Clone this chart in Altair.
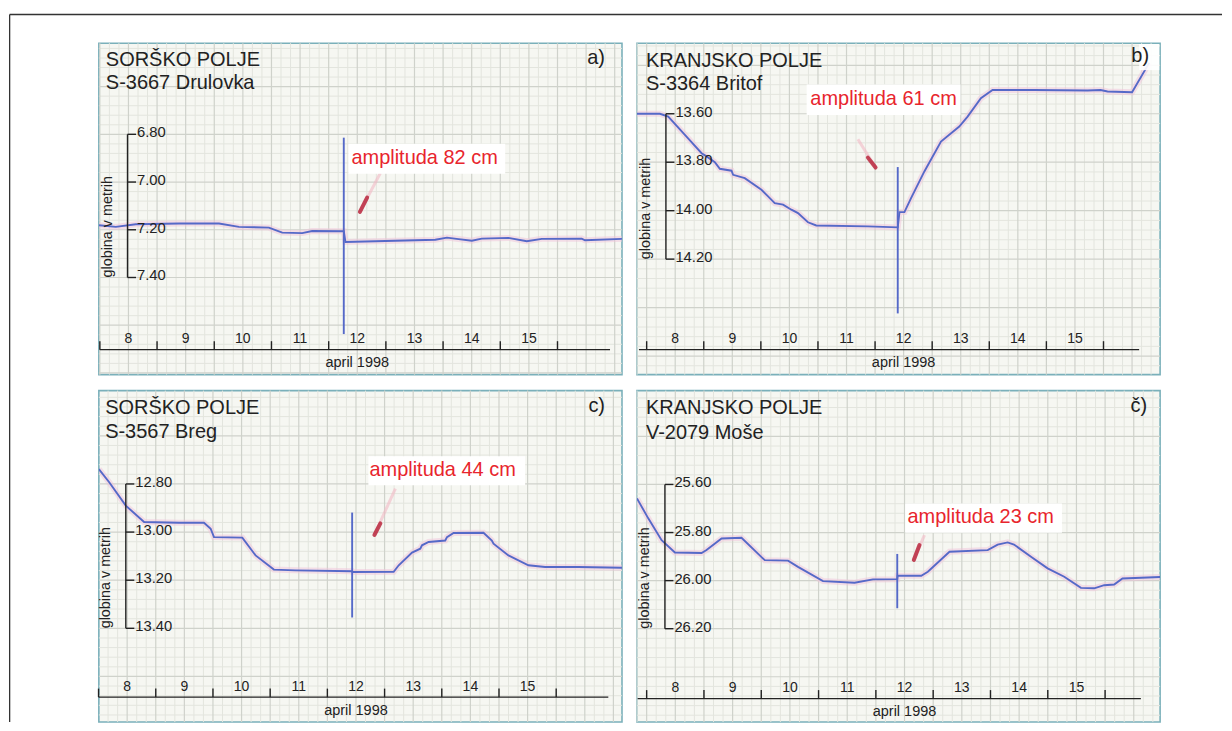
import altair as alt
import numpy as np
import pandas as pd

# ---------------- values ----------------
region_names = ["SORŠKO POLJE", "KRANJSKO POLJE", "SORŠKO POLJE", "KRANJSKO POLJE"]
station_names = ["S-3667 Drulovka", "S-3364 Britof", "S-3567 Breg", "V-2079 Moše"]
panel_letters = ["a)", "b)", "c)", "č)"]
amplitude_labels = ["amplituda 82 cm", "amplituda 61 cm", "amplituda 44 cm", "amplituda 23 cm"]
day_labels = ["8", "9", "10", "11", "12", "13", "14", "15"]
day_ticks = [8, 9, 10, 11, 12, 13, 14, 15, 16]
x_title = "april 1998"
y_title = "globina v metrih"

a_ticks = [6.80, 7.00, 7.20, 7.40]
b_ticks = [13.60, 13.80, 14.00, 14.20]
c_ticks = [12.80, 13.00, 13.20, 13.40]
d_ticks = [25.60, 25.80, 26.00, 26.20]

# a) S-3667 Drulovka (day of April, depth in m)
a_day = [7.985, 8.279, 8.628, 9.385, 10.083, 10.432, 10.955, 11.188, 11.537, 11.712, 12.264,
         12.293, 13.166, 13.864, 14.068, 14.271, 14.503, 14.677, 15.143, 15.463, 15.725,
         16.423, 16.481, 17.127]
a_depth = [7.181, 7.188, 7.177, 7.174, 7.174, 7.188, 7.191, 7.212, 7.214, 7.205, 7.206,
           7.251, 7.246, 7.242, 7.233, 7.239, 7.246, 7.237, 7.234, 7.248, 7.238,
           7.237, 7.244, 7.238]
a_spike = [12.264, 6.814, 7.637]

# b) S-3364 Britof
b_day = [7.830, 8.233, 8.378, 8.670, 8.962, 9.049, 9.194, 9.282, 9.486, 9.514,
         9.718, 10.010, 10.126, 10.243, 10.389, 10.535, 10.650, 10.825, 10.970, 11.873,
         12.397, 12.427, 12.514, 12.630, 12.863, 13.154, 13.474, 13.620, 13.853, 14.057,
         14.786, 15.718, 15.950, 16.070, 16.500, 16.800]
b_depth = [13.600, 13.600, 13.612, 13.687, 13.763, 13.776, 13.800, 13.827, 13.835, 13.852,
           13.866, 13.914, 13.941, 13.969, 13.975, 13.996, 14.010, 14.048, 14.061, 14.065,
           14.069, 14.006, 14.006, 13.948, 13.838, 13.715, 13.653, 13.612, 13.536, 13.502,
           13.502, 13.504, 13.502, 13.508, 13.511, 13.390]
b_spike = [12.397, 13.820, 14.424]

# c) S-3567 Breg
c_day = [8.005, 8.186, 8.476, 8.796, 9.407, 9.843, 9.960, 10.018, 10.513, 10.745,
         11.065, 11.443, 12.433, 12.440, 13.159, 13.247, 13.480, 13.624, 13.654, 13.770,
         14.060, 14.091, 14.206, 14.729, 14.875, 14.904, 15.165, 15.514, 15.805, 16.386,
         17.150]
c_depth = [12.738, 12.793, 12.890, 12.958, 12.961, 12.961, 12.986, 13.021, 13.023, 13.097,
           13.156, 13.159, 13.163, 13.166, 13.165, 13.138, 13.085, 13.069, 13.055, 13.041,
           13.035, 13.021, 13.004, 13.003, 13.035, 13.048, 13.097, 13.138, 13.145, 13.145,
           13.148]
c_spike = [12.433, 12.919, 13.355]

# č) V-2079 Moše
d_day = [7.831, 8.028, 8.261, 8.493, 8.958, 9.045, 9.307, 9.655, 10.061, 10.467,
         10.641, 11.077, 11.629, 11.948, 12.373, 12.380, 12.792, 12.907, 13.285, 13.951,
         14.125, 14.300, 14.410, 14.707, 14.997, 15.287, 15.578, 15.810, 15.984, 16.158,
         16.303, 16.960]
d_depth = [25.658, 25.741, 25.832, 25.883, 25.885, 25.873, 25.825, 25.822, 25.915, 25.917,
           25.943, 26.002, 26.009, 25.995, 25.994, 25.980, 25.980, 25.963, 25.880, 25.873,
           25.850, 25.841, 25.850, 25.901, 25.949, 25.984, 26.030, 26.032, 26.019, 26.016,
           25.991, 25.985]
d_spike = [12.373, 25.889, 26.115]

# ---------------- layout & style ----------------
FONT = "Liberation Sans"
BLUE = "#5569c8"
HALO = "#f0c3da"
RED = "#e8252d"
INK = "#222222"
TEAL = "#7ab0ba"
PAPER = "#f6f7f2"
GRID_MINOR = "#e3e5de"
GRID_MAJOR = "#cfd2cb"
W, H = 524, 332

layouts = [
    dict(xdom=[7.9825, 17.1274], ydom=[6.4180, 7.8071], yax=28.7, ytx=8.7,
         xax=[8.0, 16.918], base=307, tx=7, ty=[23, 46.3], lx=507, ly=21,
         box=[12.346, 15.086, 6.839, 6.965], txt=[12.398, 6.9255],
         arrow=[12.904, 6.962, 12.672, 7.065, 12.546, 7.125]),
    dict(xdom=[7.8304, 16.9912], ydom=[13.3087, 14.6767], yax=29, ytx=9,
         xax=[7.865, 16.624], base=307, tx=9, ty=[23.7, 47.3], lx=513, ly=19,
         box=[10.802, 13.495, 13.479, 13.605], txt=[10.867, 13.565],
         arrow=[11.699, 13.705, 11.874, 13.781, 12.009, 13.822]),
    dict(xdom=[8.0052, 17.1501], ydom=[12.4120, 13.7896], yax=27, ytx=7,
         xax=[8.0, 16.911], base=307, tx=6.3, ty=[23, 47.3], lx=507, ly=21,
         box=[12.717, 15.457, 12.685, 12.805], txt=[12.735, 12.766],
         arrow=[13.189, 12.819, 12.927, 12.964, 12.822, 13.012]),
    dict(xdom=[7.8310, 16.9599], ydom=[25.2096, 26.5884], yax=28, ytx=8,
         xax=[7.843, 16.624], base=308.5, tx=9, ty=[23.7, 48], lx=511, ly=21,
         box=[12.512, 15.247, 25.679, 25.801], txt=[12.552, 25.759],
         arrow=[12.848, 25.811, 12.761, 25.852, 12.662, 25.914]),
]

series = [(a_day, a_depth, a_ticks, a_spike), (b_day, b_depth, b_ticks, b_spike),
          (c_day, c_depth, c_ticks, c_spike), (d_day, d_depth, d_ticks, d_spike)]


def one(**kw):
    return pd.DataFrame({k: [v] for k, v in kw.items()})


def make_panel(i):
    day, depth, ticks, spike = series[i]
    L = layouts[i]
    xs = alt.Scale(domain=L["xdom"], nice=False, zero=False)
    ys = alt.Scale(domain=L["ydom"], reverse=True, nice=False, zero=False)

    def X(f):
        return alt.X(f, type="quantitative", scale=xs, axis=None)

    def Y(f):
        return alt.Y(f, type="quantitative", scale=ys, axis=None)

    layers = []

    if i == 0:  # outer frame of the figure (top and left edges)
        layers.append(alt.Chart(one(k=0)).mark_rule(color="#333333", strokeWidth=1.3).encode(
            x=alt.value(-89.35), x2=alt.value(1125), y=alt.value(-28.7)))
        layers.append(alt.Chart(one(k=0)).mark_rule(color="#333333", strokeWidth=1.3).encode(
            x=alt.value(-89.35), y=alt.value(-28.7), y2=alt.value(680)))

    # graph paper
    t0, t1 = L["xdom"]
    ks = np.arange(int(np.ceil(t0 * 6)), int(np.floor(t1 * 6)) + 1)
    gx = pd.DataFrame({"t": ks / 6.0, "major": ks % 3 == 0})
    d0, d1 = L["ydom"]
    kd = np.arange(int(np.ceil(d0 / 0.04)), int(np.floor(d1 / 0.04)) + 1)
    gy = pd.DataFrame({"d": kd * 0.04, "major": kd % 5 == 0})
    layers.append(alt.Chart(gx[~gx.major]).mark_rule(color=GRID_MINOR, strokeWidth=1).encode(x=X("t")))
    layers.append(alt.Chart(gy[~gy.major]).mark_rule(color=GRID_MINOR, strokeWidth=1).encode(y=Y("d")))
    layers.append(alt.Chart(gx[gx.major]).mark_rule(color=GRID_MAJOR, strokeWidth=1.2).encode(x=X("t")))
    layers.append(alt.Chart(gy[gy.major]).mark_rule(color=GRID_MAJOR, strokeWidth=1.2).encode(y=Y("d")))

    # water level trace
    df = pd.DataFrame({"t": day, "d": depth, "o": range(len(day))})
    layers.append(alt.Chart(df).mark_line(color=HALO, strokeWidth=6, opacity=0.5, clip=True).encode(
        x=X("t"), y=Y("d"), order="o:Q"))
    layers.append(alt.Chart(df).mark_line(color=BLUE, strokeWidth=1.9, clip=True).encode(
        x=X("t"), y=Y("d"), order="o:Q"))
    layers.append(alt.Chart(one(t=spike[0], d1=spike[1], d2=spike[2])).mark_rule(
        color=BLUE, strokeWidth=1.9).encode(x=X("t"), y=Y("d1"), y2=alt.Y2("d2")))

    # depth axis
    yax = L["yax"]
    layers.append(alt.Chart(one(d1=ticks[0], d2=ticks[-1])).mark_rule(color=INK, strokeWidth=1.4).encode(
        x=alt.value(yax), y=Y("d1"), y2=alt.Y2("d2")))
    tdf = pd.DataFrame({"d": ticks, "lab": [f"{v:.2f}" for v in ticks]})
    layers.append(alt.Chart(tdf).mark_rule(color=INK, strokeWidth=1.4).encode(
        x=alt.value(yax), x2=alt.value(yax + 8.5), y=Y("d")))
    layers.append(alt.Chart(tdf).mark_text(align="left", baseline="middle", dy=-1, font=FONT,
                                           fontSize=14.8, color=INK).encode(
        x=alt.value(yax + 9.5), y=Y("d"), text="lab:N"))
    layers.append(alt.Chart(one(d=ticks[-1], txt=y_title)).mark_text(
        angle=270, align="left", baseline="middle", font=FONT, fontSize=14.4, color=INK).encode(
        x=alt.value(L["ytx"]), y=Y("d"), text="txt:N"))

    # time axis
    base = L["base"]
    layers.append(alt.Chart(one(t1=L["xax"][0], t2=L["xax"][1])).mark_rule(color=INK, strokeWidth=1.4).encode(
        x=X("t1"), x2=alt.X2("t2"), y=alt.value(base)))
    layers.append(alt.Chart(pd.DataFrame({"t": day_ticks})).mark_rule(color=INK, strokeWidth=1.4).encode(
        x=X("t"), y=alt.value(base), y2=alt.value(base - 8.5)))
    ldf = pd.DataFrame({"t": [int(s) + 0.5 for s in day_labels], "lab": day_labels})
    layers.append(alt.Chart(ldf).mark_text(align="center", baseline="alphabetic", font=FONT,
                                           fontSize=14, color=INK).encode(
        x=X("t"), y=alt.value(base - 6.3), text="lab:N"))
    layers.append(alt.Chart(one(t=12.5, txt=x_title)).mark_text(
        align="center", baseline="alphabetic", font=FONT, fontSize=14.5, color=INK).encode(
        x=X("t"), y=alt.value(base + 17.7), text="txt:N"))

    # amplitude annotation
    ar = L["arrow"]
    layers.append(alt.Chart(one(t1=ar[0], d1=ar[1], t2=ar[4], d2=ar[5])).mark_rule(
        color="#f1b9c4", strokeWidth=3, opacity=0.6).encode(
        x=X("t1"), y=Y("d1"), x2=alt.X2("t2"), y2=alt.Y2("d2")))
    layers.append(alt.Chart(one(t1=ar[2], d1=ar[3], t2=ar[4], d2=ar[5])).mark_rule(
        color="#b8283e", strokeWidth=4, strokeCap="round", opacity=0.85).encode(
        x=X("t1"), y=Y("d1"), x2=alt.X2("t2"), y2=alt.Y2("d2")))
    bx = L["box"]
    layers.append(alt.Chart(one(x1=bx[0], x2=bx[1], y1=bx[2], y2=bx[3])).mark_rect(color="white").encode(
        x=X("x1"), x2=alt.X2("x2"), y=Y("y1"), y2=alt.Y2("y2")))
    layers.append(alt.Chart(one(t=L["txt"][0], d=L["txt"][1], txt=amplitude_labels[i])).mark_text(
        align="left", baseline="alphabetic", font=FONT, fontSize=20, color=RED).encode(
        x=X("t"), y=Y("d"), text="txt:N"))

    # panel titles
    if i == 1:
        layers.append(alt.Chart(one(k=0)).mark_rect(color="white", opacity=0.9).encode(
            x=alt.value(503), x2=alt.value(523.2), y=alt.value(0.8), y2=alt.value(27)))
    layers.append(alt.Chart(one(txt=region_names[i])).mark_text(
        align="left", baseline="alphabetic", font=FONT, fontSize=20, color=INK).encode(
        x=alt.value(L["tx"]), y=alt.value(L["ty"][0]), text="txt:N"))
    layers.append(alt.Chart(one(txt=station_names[i])).mark_text(
        align="left", baseline="alphabetic", font=FONT, fontSize=20, color=INK).encode(
        x=alt.value(L["tx"]), y=alt.value(L["ty"][1]), text="txt:N"))
    layers.append(alt.Chart(one(txt=panel_letters[i])).mark_text(
        align="right", baseline="alphabetic", font=FONT, fontSize=20, color=INK).encode(
        x=alt.value(L["lx"]), y=alt.value(L["ly"]), text="txt:N"))

    return alt.layer(*layers).properties(width=W, height=H)


chart = alt.concat(
    make_panel(0), make_panel(1), make_panel(2), make_panel(3),
    columns=2, spacing={"row": 16, "column": 15}, bounds="flush",
).properties(
    padding={"left": 0, "top": 3.65, "right": 0, "bottom": 0}
).configure(background="white").configure_view(fill=PAPER, stroke=TEAL, strokeWidth=1.6)

chart.save("out.html", embed_options={"renderer": "svg", "actions": False})
